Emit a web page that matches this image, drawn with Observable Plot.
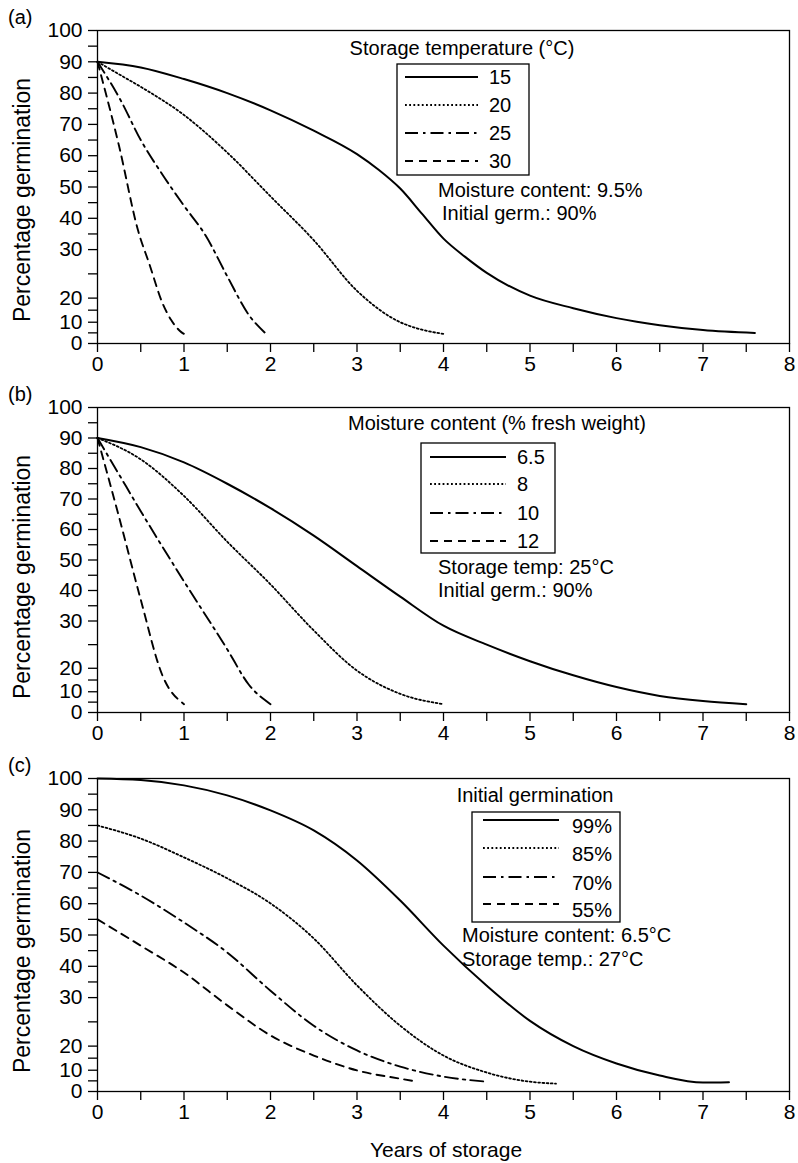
<!DOCTYPE html>
<html>
<head>
<meta charset="utf-8">
<script src="https://cdn.jsdelivr.net/npm/d3@7"></script>
<script src="https://cdn.jsdelivr.net/npm/@observablehq/plot@0.6"></script>
<style>
  html, body { margin: 0; padding: 0; background: #fff; }
  #root { position: relative; width: 798px; height: 1163px; overflow: hidden;
          font-family: "Liberation Sans", Arial, sans-serif; }
  #root > svg { position: absolute; left: 0; }
</style>
</head>
<body>
<div id="root"></div>
<script>
// ---------- axis ticks ----------
const yearTicks = [0, 0.5, 1, 1.5, 2, 2.5, 3, 3.5, 4, 4.5, 5, 5.5, 6, 6.5, 7, 7.5, 8];
const pctTicks = [0, 5, 10, 15, 20, 25, 30, 35, 40, 45, 50, 55, 60, 65, 70, 75, 80, 85, 90, 95, 100];
const pctBreaks = [0, 10, 20, 30, 100];          // axis is compressed below 30 %

// ---------- panel (a): storage temperature ----------
const tempLabels = ["15", "20", "25", "30"];
const temp15 = [[0,90],[0.5,88.2],[1,84.5],[1.5,80],[2,74.5],[2.5,68],[3,60.5],[3.25,55.5],[3.5,49.5],[3.75,41.5],[4,33.5],[4.25,28.5],[4.5,25.2],[5,20.5],[5.5,15.8],[6,11.7],[6.5,8.6],[7,6.3],[7.6,4.9]];
const temp20 = [[0,90],[0.25,86],[0.5,82],[1,73],[1.5,61],[2,47],[2.5,33],[3,21.5],[3.5,10],[3.75,6.5],[4,4.5]];
const temp25 = [[0,90],[0.27,77.6],[0.5,65],[0.75,54],[1,44],[1.25,34.5],[1.5,24.5],[1.75,13],[1.95,4.5]];
const temp30 = [[0,90],[0.25,63],[0.47,36],[0.6,27],[0.75,18],[0.85,11],[0.95,6],[1.02,4]];

// ---------- panel (b): moisture content ----------
const mcLabels = ["6.5", "8", "10", "12"];
const mc65 = [[0,90],[0.5,87],[1,82],[1.5,75],[2,67],[2.5,58],[3,48],[3.5,38],[4,29],[4.5,25],[5,21.5],[5.5,17],[6,12],[6.5,8],[7,5.5],[7.5,4]];
const mc8  = [[0,90],[0.5,83],[1,71],[1.5,56],[2,42],[2.5,28],[3,19],[3.5,9],[4,4]];
const mc10 = [[0,90],[0.25,78],[0.5,66],[1,43],[1.5,24],[1.75,13],[2,4]];
const mc12 = [[0,90],[0.25,64],[0.5,37],[0.75,17],[1,4]];

// ---------- panel (c): initial germination ----------
const igLabels = ["99%", "85%", "70%", "55%"];
const ig99 = [[0,100],[0.5,99.5],[1,97.8],[1.5,94.6],[2,89.8],[2.5,83.4],[3,73.8],[3.5,61],[4,46.6],[4.5,33.8],[5,25.2],[5.5,20],[6,12.8],[6.5,7.5],[7,4.2],[7.3,4.4]];
const ig85 = [[0,85],[0.5,80.8],[1,74.8],[1.5,68.1],[2,60.1],[2.5,48.9],[3,33.9],[3.5,24.2],[4,16.1],[4.5,8.9],[5,4.6],[5.3,3.7]];
const ig70 = [[0,70],[0.5,62.6],[1,54],[1.5,44.4],[2,32.2],[2.5,24.2],[3,18.2],[3.5,11.5],[4,7],[4.5,4.6]];
const ig55 = [[0,55],[0.5,46.6],[1,38],[1.5,28.4],[2,22.2],[2.5,16.1],[3,9.9],[3.5,6],[3.7,4.6]];

// ---------- styles ----------
const lineStyles = [
  {dash: null, width: 2},
  {dash: "1.8,2.4", width: 1.8},
  {dash: "13,5,2.5,5", width: 1.9},
  {dash: "8,6", width: 1.9}
];
const FONT = "'Liberation Sans', Arial, Helvetica, sans-serif";
// where each break value sits on the (linear 0..100) drawing axis
const disp = d3.scaleLinear().domain(pctBreaks).range([0, 6.8, 14.5, 30, 100]);

const root = document.getElementById("root");

function drawPanel({top, height, marginTop, marginBottom, series}) {
  const chart = Plot.plot({
    width: 798, height,
    marginTop, marginBottom, marginLeft: 97, marginRight: 9,
    style: {fontFamily: FONT, fontSize: "21px", color: "#000", background: "transparent", overflow: "visible"},
    x: {domain: [0, 8]},
    y: {domain: [0, 100]},
    marks: [
      Plot.axisX({ticks: yearTicks, tickFormat: d => Number.isInteger(d) ? String(d) : "",
                  tickSize: 9, tickPadding: 4, strokeWidth: 1.3, label: null, fontSize: 21}),
      Plot.axisY({ticks: pctTicks.map(disp),
                  tickFormat: d => { const v = Math.round(disp.invert(d)); return v % 10 === 0 ? String(v) : ""; },
                  tickSize: 9, tickPadding: 6, strokeWidth: 1.3, label: null, fontSize: 21}),
      Plot.frame({stroke: "#000", strokeWidth: 1.3}),
      ...series.map((pts, i) => Plot.line(pts, {
        x: d => d[0], y: d => disp(d[1]), curve: "monotone-x",
        stroke: "#000", strokeWidth: lineStyles[i].width,
        strokeDasharray: lineStyles[i].dash
      }))
    ]
  });
  chart.style.top = top + "px";
  root.appendChild(chart);
}

drawPanel({top: 0,   height: 375, marginTop: 30, marginBottom: 32, series: [temp15, temp20, temp25, temp30]});
drawPanel({top: 375, height: 375, marginTop: 32, marginBottom: 38, series: [mc65, mc8, mc10, mc12]});
drawPanel({top: 750, height: 413, marginTop: 28, marginBottom: 72, series: [ig99, ig85, ig70, ig55]});

// ---------- overlay: panel tags, titles, legends, notes ----------
const ov = d3.select(root).append("svg")
  .attr("width", 798).attr("height", 1163)
  .style("top", "0px")
  .attr("font-family", FONT).attr("fill", "#000");

function txt(x, y, s, size, anchor = "start", rotate = 0) {
  const t = ov.append("text").attr("x", x).attr("y", y).attr("dy", "0.35em")
    .attr("font-size", size).attr("text-anchor", anchor).text(s);
  if (rotate) t.attr("transform", `rotate(${rotate},${x},${y})`);
  return t;
}

// panel tags
txt(8, 17, "(a)", 20);
txt(8, 394, "(b)", 20);
txt(8, 765, "(c)", 20);

// y titles
txt(22, 200, "Percentage germination", 23, "middle", -90);
txt(22, 577, "Percentage germination", 23, "middle", -90);
txt(22, 951, "Percentage germination", 23, "middle", -90);

// x title
txt(446, 1150, "Years of storage", 21, "middle");

function legend({title, titleX, titleY, box, sample, labelX, rowY, lineDy, labels}) {
  txt(titleX, titleY, title, 20, "middle");
  ov.append("rect").attr("x", box[0]).attr("y", box[1])
    .attr("width", box[2] - box[0]).attr("height", box[3] - box[1])
    .attr("fill", "none").attr("stroke", "#000").attr("stroke-width", 1.3);
  labels.forEach((lab, i) => {
    const ly = rowY[i] + lineDy;
    const ln = ov.append("line").attr("x1", sample[0]).attr("x2", sample[1])
      .attr("y1", ly).attr("y2", ly).attr("stroke", "#000")
      .attr("stroke-width", lineStyles[i].width);
    if (lineStyles[i].dash) ln.attr("stroke-dasharray", lineStyles[i].dash);
    txt(labelX, rowY[i], lab, 20);
  });
}

legend({title: "Storage temperature (°C)", titleX: 462, titleY: 48,
        box: [397, 64, 529, 175], sample: [405, 478], labelX: 489,
        rowY: [77, 105, 133, 161], lineDy: 0, labels: tempLabels});
txt(438, 190, "Moisture content: 9.5%", 20);
txt(442, 213, "Initial germ.: 90%", 20);

legend({title: "Moisture content (% fresh weight)", titleX: 497, titleY: 423,
        box: [421, 443, 555, 553], sample: [430, 506], labelX: 517,
        rowY: [457, 484, 513, 541], lineDy: 0, labels: mcLabels});
txt(438, 567, "Storage temp: 25°C", 20);
txt(438, 590, "Initial germ.: 90%", 20);

legend({title: "Initial germination", titleX: 535, titleY: 795,
        box: [472, 812, 620, 922], sample: [483, 559], labelX: 572,
        rowY: [826, 854, 883, 910], lineDy: -6, labels: igLabels});
txt(462, 935, "Moisture content: 6.5°C", 20);
txt(462, 959, "Storage temp.: 27°C", 20);
</script>
</body>
</html>
